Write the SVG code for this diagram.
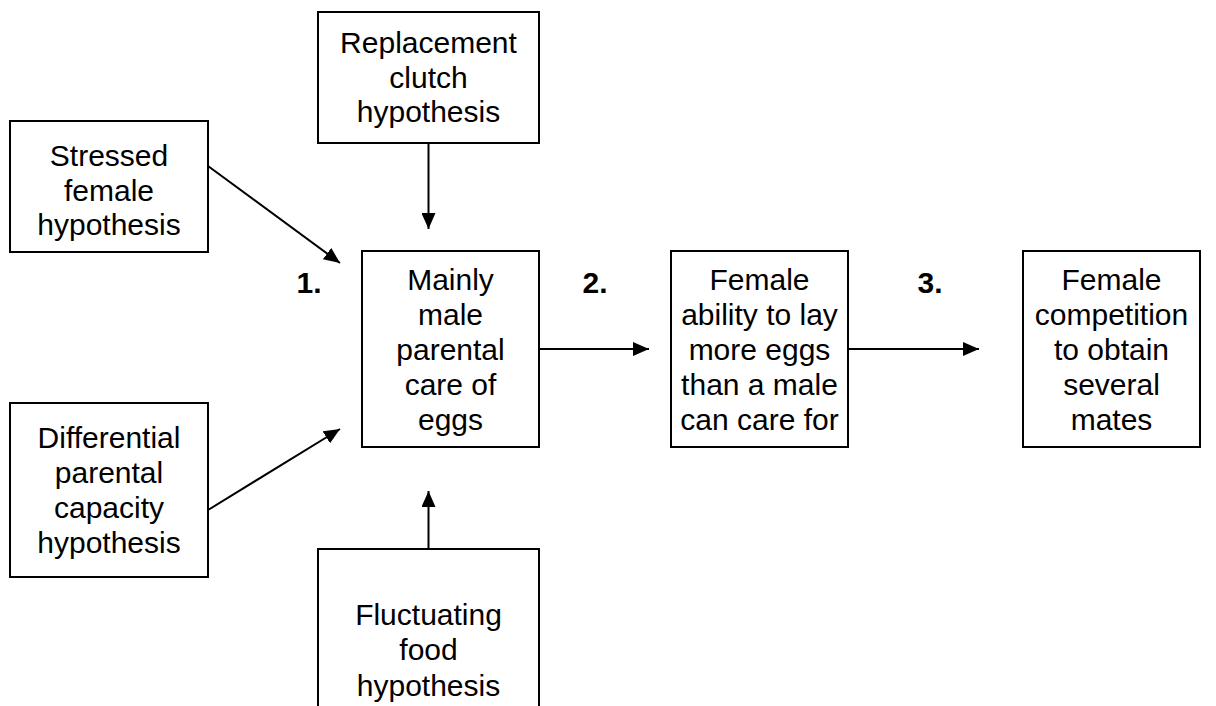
<svg xmlns="http://www.w3.org/2000/svg" width="1216" height="706" viewBox="0 0 1216 706">
<defs>
<style>
.box{fill:#fff;stroke:#000;stroke-width:2}
.t{font-family:"Liberation Sans",Arial,sans-serif;font-size:30px;fill:#000;text-anchor:middle}
.n{font-family:"Liberation Sans",Arial,sans-serif;font-size:30px;font-weight:bold;fill:#000;text-anchor:middle}
.c{stroke:#000;stroke-width:2;fill:none}
</style>
<marker id="ah" markerWidth="16" markerHeight="14" refX="16" refY="7" orient="auto" markerUnits="userSpaceOnUse" viewBox="0 0 16 14">
<path d="M0,0 L16,7 L0,14 z" fill="#000"/>
</marker>
</defs>
<rect width="1216" height="706" fill="#fff"/>
<g id="connectors">
<line class="c" x1="428.5" y1="143" x2="428.5" y2="229" marker-end="url(#ah)"/>
<line class="c" x1="208" y1="166" x2="340" y2="263" marker-end="url(#ah)"/>
<line class="c" x1="208" y1="510" x2="340" y2="429" marker-end="url(#ah)"/>
<line class="c" x1="428.5" y1="549" x2="428.5" y2="491" marker-end="url(#ah)"/>
<line class="c" x1="539" y1="349" x2="649" y2="349" marker-end="url(#ah)"/>
<line class="c" x1="848" y1="349" x2="979" y2="349" marker-end="url(#ah)"/>
</g>
<g id="labels">
<text class="n" x="309" y="293">1.</text>
<text class="n" x="595" y="293">2.</text>
<text class="n" x="930" y="293">3.</text>
</g>
<g id="replacement">
<rect class="box" x="318" y="12" width="221" height="131"/>
<text class="t" x="428.5" y="53">Replacement</text>
<text class="t" x="428.5" y="88">clutch</text>
<text class="t" x="428.5" y="122">hypothesis</text>
</g>
<g id="stressed">
<rect class="box" x="10" y="121" width="198" height="131"/>
<text class="t" x="109" y="166">Stressed</text>
<text class="t" x="109" y="201">female</text>
<text class="t" x="109" y="235">hypothesis</text>
</g>
<g id="differential">
<rect class="box" x="10" y="403" width="198" height="174"/>
<text class="t" x="109" y="448">Differential</text>
<text class="t" x="109" y="483">parental</text>
<text class="t" x="109" y="518">capacity</text>
<text class="t" x="109" y="553">hypothesis</text>
</g>
<g id="fluctuating">
<rect class="box" x="318" y="549" width="221" height="200"/>
<text class="t" x="428.5" y="625">Fluctuating</text>
<text class="t" x="428.5" y="660">food</text>
<text class="t" x="428.5" y="696">hypothesis</text>
</g>
<g id="mainly">
<rect class="box" x="362" y="251" width="177" height="196"/>
<text class="t" x="450.5" y="290">Mainly</text>
<text class="t" x="450.5" y="325">male</text>
<text class="t" x="450.5" y="360">parental</text>
<text class="t" x="450.5" y="395">care of</text>
<text class="t" x="450.5" y="430">eggs</text>
</g>
<g id="ability">
<rect class="box" x="671" y="251" width="177" height="196"/>
<text class="t" x="759.5" y="290">Female</text>
<text class="t" x="759.5" y="325">ability to lay</text>
<text class="t" x="759.5" y="360">more eggs</text>
<text class="t" x="759.5" y="395">than a male</text>
<text class="t" x="759.5" y="430">can care for</text>
</g>
<g id="competition">
<rect class="box" x="1023" y="251" width="177" height="196"/>
<text class="t" x="1111.5" y="290">Female</text>
<text class="t" x="1111.5" y="325">competition</text>
<text class="t" x="1111.5" y="360">to obtain</text>
<text class="t" x="1111.5" y="395">several</text>
<text class="t" x="1111.5" y="430">mates</text>
</g>
</svg>
